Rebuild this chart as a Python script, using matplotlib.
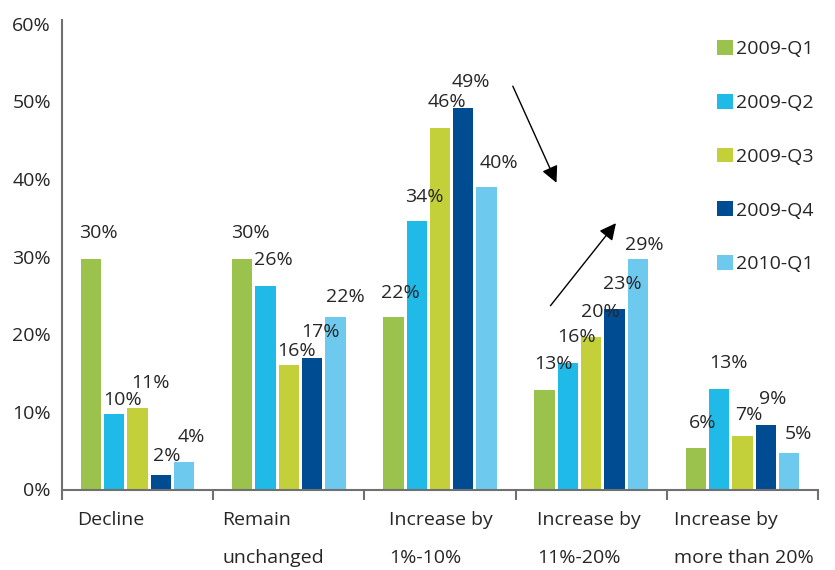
import numpy as np
import matplotlib.pyplot as plt
from matplotlib.transforms import blended_transform_factory

plt.rcParams['font.family'] = ['Open Sans', 'DejaVu Sans']

categories = ['Decline', 'Remain\nunchanged', 'Increase by\n1%-10%',
              'Increase by\n11%-20%', 'Increase by\nmore than 20%']
series = ['2009-Q1', '2009-Q2', '2009-Q3', '2009-Q4', '2010-Q1']

# bar heights (%), one list per quarter
q1_2009 = [29.7, 29.7, 22.2, 12.8, 5.3]
q2_2009 = [9.7, 26.2, 34.6, 16.3, 13.0]
q3_2009 = [10.5, 16.0, 46.6, 19.6, 6.9]
q4_2009 = [1.9, 16.9, 49.2, 23.3, 8.3]
q1_2010 = [3.5, 22.2, 39.0, 29.7, 4.7]

# printed labels
lab_q1_2009 = [30, 30, 22, 13, 6]
lab_q2_2009 = [10, 26, 34, 16, 13]
lab_q3_2009 = [11, 16, 46, 20, 7]
lab_q4_2009 = [2, 17, 49, 23, 9]
lab_q1_2010 = [4, 22, 40, 29, 5]

values = [q1_2009, q2_2009, q3_2009, q4_2009, q1_2010]
labels = [lab_q1_2009, lab_q2_2009, lab_q3_2009, lab_q4_2009, lab_q1_2010]
colors = ['#9bc24c', '#1fbae8', '#c3d03a', '#004c93', '#6dcaee']

# label placement (pixels), [group][series]
lab_dx = [[7, 8, 13, 6, 7], [8, 8, 8, 8, 10], [7, 8, 7, 8, 12],
          [9, 9, 9, 8, 6], [7, 9, 6, 7, 9]]
lab_dy = [[26, 14, 25, 19, 25], [26, 26, 14, 26, 20], [24, 24, 26, 26, 24],
          [26, 26, 25, 25, 14], [25, 26, 21, 26, 19]]
cat_dx = [0.10, 0.06, 0.165, 0.144, 0.046]

fs = 14
tc = '#262626'
gray = '#707070'

fig = plt.figure(figsize=(8.35, 5.7), dpi=100)
ax = fig.add_axes([62 / 835, 1 - 489.5 / 570, 756 / 835, 469.5 / 570])

x = np.arange(len(categories))
pitch = 0.1543
width = 0.1344
for i, (vals, name, col) in enumerate(zip(values, series, colors)):
    pos = x + (i - 2) * pitch
    ax.bar(pos, vals, width, color=col, label=name, edgecolor='none')
    for g in range(len(categories)):
        ax.annotate('%d%%' % labels[i][g], (pos[g], vals[g]),
                    xytext=(lab_dx[g][i], lab_dy[g][i]), textcoords='offset pixels',
                    ha='center', va='center', fontsize=fs, color=tc)

ax.set_xlim(-0.5, 4.5)
ax.set_ylim(0, 60.5)
ax.set_yticks(np.arange(0, 61, 10))
ax.set_yticklabels(['%d%%' % v for v in range(0, 61, 10)], fontsize=fs, color=tc)
ax.set_xticks(np.arange(-0.5, 5, 1))
ax.set_xticklabels([])
ax.tick_params(axis='y', length=0, pad=8)
ax.tick_params(axis='x', direction='out', length=7, width=1.5, color=gray)
for s in ['top', 'right']:
    ax.spines[s].set_visible(False)
for s in ['left', 'bottom']:
    ax.spines[s].set_color(gray)
    ax.spines[s].set_linewidth(1.5)

trans = blended_transform_factory(ax.transData, ax.transAxes)
for g, cat in enumerate(categories):
    ax.text(g - 0.5 + cat_dx[g], -0.045, cat, transform=trans, ha='left', va='top',
            fontsize=fs, color=tc, linespacing=2.45)

# trend arrows
ax.annotate('', xy=(2.778, 39.2), xytext=(2.474, 52.3),
            arrowprops=dict(arrowstyle='-|>', lw=1, color='black', mutation_scale=25))
ax.annotate('', xy=(3.175, 34.6), xytext=(2.719, 23.4),
            arrowprops=dict(arrowstyle='-|>', lw=1, color='black', mutation_scale=25))

ax.legend(loc='upper left', bbox_to_anchor=(717 / 835, 1 - 40 / 570),
          bbox_transform=fig.transFigure, frameon=False, fontsize=fs,
          handlelength=0.8, handleheight=0.8, handletextpad=0.2,
          labelspacing=1.83, borderpad=0, borderaxespad=0, labelcolor=tc)

fig.savefig('out.png', dpi=100)
